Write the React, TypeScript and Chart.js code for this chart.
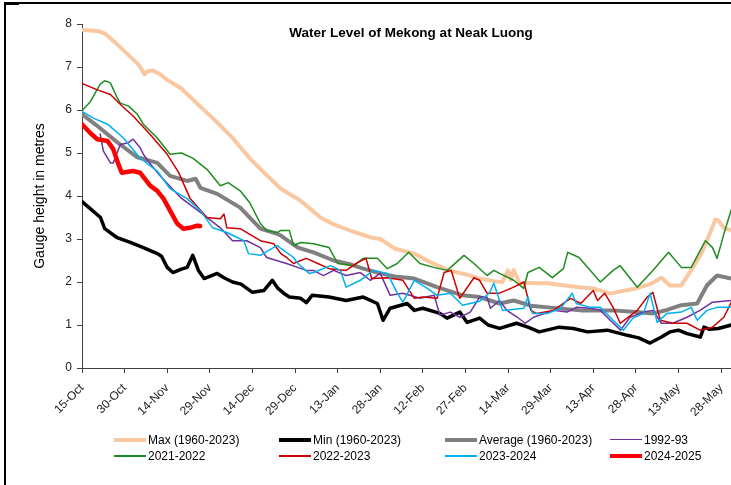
import React, { useEffect, useRef } from "react";
import { Chart, registerables } from "chart.js";

Chart.register(...registerables);

const FONT = "'Liberation Sans', Arial, Helvetica, sans-serif";

const TITLE = "Water Level of Mekong at Neak Luong";
const Y_TITLE = "Gauge height in metres";

// days since 15-Oct; tick every 15 days
const xTickLabels = [
  "15-Oct", "30-Oct", "14-Nov", "29-Nov", "14-Dec", "29-Dec", "13-Jan", "28-Jan",
  "12-Feb", "27-Feb", "14-Mar", "29-Mar", "13-Apr", "28-Apr", "13-May", "28-May",
];
const X_STEP = 15;
const X_MAX = 228.5;
const Y_MAX = 8;

type P = [number, number];

const maxSeries: P[] = [
  [0, 7.86], [3, 7.85], [6, 7.83], [8, 7.78], [12, 7.55], [16, 7.3], [20, 7.05], [22, 6.83],
  [23, 6.9], [25, 6.92], [27, 6.85], [30, 6.7], [35, 6.5], [41, 6.12], [47, 5.75], [53, 5.35],
  [59, 4.88], [64, 4.55], [70, 4.17], [77, 3.89], [84, 3.5], [88, 3.36], [95, 3.18], [102, 3.03],
  [105, 3.0], [110, 2.78], [117, 2.66], [123, 2.45], [129, 2.27], [135, 2.18], [140, 2.08],
  [145, 2.02], [148, 2.0], [150, 2.27], [151, 2.05], [152, 2.28], [154, 1.98], [160, 1.97],
  [164, 1.97], [170, 1.92], [175, 1.88], [180, 1.85], [186, 1.73], [191, 1.8], [195, 1.85],
  [200, 1.95], [204, 2.1], [207, 1.92], [211, 1.92], [215, 2.33], [218, 2.65], [220, 2.96],
  [223, 3.45], [224, 3.43], [226, 3.26], [228.6, 3.2],
];

const minSeries: P[] = [
  [0, 3.87], [3, 3.7], [6.5, 3.5], [8, 3.24], [12.4, 3.03], [17, 2.92], [21.6, 2.8], [26.5, 2.66],
  [28, 2.6], [30, 2.34], [32, 2.22], [35, 2.3], [37, 2.34], [39, 2.62], [41, 2.27], [43, 2.08],
  [47.6, 2.2], [50, 2.1], [53, 2.0], [56, 1.95], [60, 1.76], [64, 1.8], [67, 2.04], [69, 1.85],
  [71, 1.74], [73, 1.65], [77, 1.62], [79, 1.52], [81, 1.69], [87, 1.65], [93, 1.57], [99, 1.65],
  [104, 1.5], [106, 1.11], [108.5, 1.39], [114.5, 1.5], [117, 1.34], [120, 1.39], [126, 1.27],
  [128.5, 1.16], [133, 1.3], [135.6, 1.06], [140, 1.16], [143, 1.0], [147, 0.92], [153, 1.04],
  [157, 0.95], [161, 0.84], [168, 0.95], [173, 0.92], [178, 0.84], [185, 0.88], [192, 0.76],
  [196, 0.7], [200, 0.58], [204, 0.72], [207, 0.84], [210, 0.88], [213, 0.8], [217.7, 0.72],
  [219, 0.95], [221, 0.9], [224, 0.92], [228.6, 1.0],
];

const avgSeries: P[] = [
  [0, 5.9], [5, 5.65], [12.4, 5.25], [19.5, 4.9], [26.5, 4.77], [31, 4.47], [37, 4.35], [40, 4.4],
  [41.7, 4.19], [47.6, 4.05], [55.7, 3.73], [62.8, 3.24], [68.7, 3.12], [70, 3.08], [76, 2.8],
  [81.5, 2.69], [88.6, 2.5], [95, 2.4], [99, 2.31], [105, 2.2], [111, 2.12], [117, 2.08],
  [125, 1.88], [134, 1.69], [140, 1.65], [147, 1.5], [152, 1.57], [158, 1.45], [164, 1.41],
  [175.5, 1.34], [187, 1.34], [195, 1.3], [201, 1.27], [206, 1.35], [211, 1.46], [216.6, 1.5],
  [220, 1.92], [223.6, 2.15], [228.6, 2.08],
];

const s1992: P[] = [
  [6.4, 5.44], [7.5, 5.05], [10, 4.77], [11, 4.77], [13.5, 5.2], [16, 5.23], [18, 5.32],
  [20.5, 5.12], [21.6, 4.97], [24, 4.75], [27.5, 4.47], [34.6, 3.97], [41.7, 3.62], [48.7, 3.26],
  [53, 2.96], [58, 2.96], [62.8, 2.8], [65, 2.57], [72, 2.43], [79, 2.27], [81.5, 2.27],
  [85, 2.15], [88.6, 2.27], [93, 2.15], [98, 2.22], [101.5, 2.04], [105, 2.2], [108.5, 1.69],
  [113, 1.74], [119, 1.62], [124, 1.69], [126, 1.23], [129.7, 1.3], [133, 1.18], [136.7, 1.3],
  [140, 1.65], [142.6, 1.65], [143.8, 1.39], [147, 1.57], [149.6, 1.34], [153.3, 1.18],
  [156, 1.04], [159, 1.18], [166, 1.34], [170.8, 1.3], [174, 1.41], [179, 1.39], [182.5, 1.34],
  [186, 1.11], [189.6, 0.88], [193, 1.18], [197.7, 1.3], [201, 1.34], [204, 1.04], [208, 1.04],
  [213, 1.18], [217.6, 1.34], [222, 1.53], [228.6, 1.57],
];

const s2021: P[] = [
  [0, 5.98], [3, 6.2], [6.4, 6.6], [8, 6.68], [10, 6.63], [12.4, 6.28], [13.5, 6.16], [16.4, 6.09],
  [19.5, 5.9], [21.6, 5.67], [26.5, 5.35], [31, 4.97], [35, 5.0], [39, 4.88], [44, 4.62],
  [48.7, 4.24], [51.5, 4.31], [55.7, 4.12], [59, 3.85], [62.8, 3.36], [65, 3.2], [68.7, 3.15],
  [70, 3.2], [73, 3.2], [74.5, 2.85], [77, 2.92], [81.5, 2.89], [87, 2.8], [90, 2.43],
  [95.7, 2.38], [99, 2.55], [104, 2.55], [107.5, 2.31], [111, 2.43], [115, 2.69], [119, 2.43],
  [123.8, 2.34], [128.6, 2.27], [134.5, 2.62], [138, 2.43], [142.6, 2.15], [145, 2.27],
  [147, 2.2], [152, 2.04], [155.5, 1.85], [157, 2.22], [161, 2.34], [165.6, 2.1], [169.5, 2.31],
  [171, 2.69], [175, 2.57], [179, 2.27], [182.5, 2.0], [187, 2.27], [189.5, 2.38], [195.5, 1.88],
  [201, 2.27], [206.5, 2.69], [211, 2.34], [214.5, 2.34], [219.5, 2.96], [222, 2.8],
  [223.6, 2.55], [226, 3.12], [228.6, 3.68],
];

const s2022: P[] = [
  [0, 6.62], [5, 6.48], [10, 6.36], [14, 6.1], [18, 5.86], [24, 5.43], [30, 4.97], [34, 4.55],
  [38, 3.95], [44, 3.5], [48.7, 3.47], [50, 3.58], [51, 3.26], [55.7, 3.24], [62.8, 2.96],
  [67.5, 2.89], [70, 2.66], [72, 2.57], [74.5, 2.43], [77, 2.5], [79, 2.55], [83, 2.43],
  [87, 2.31], [93, 2.27], [97, 2.45], [100, 2.55], [102, 2.08], [107.5, 2.1], [113, 2.04],
  [117, 1.62], [120, 1.65], [125, 1.62], [127.5, 2.22], [130, 2.27], [133, 1.62], [138, 2.1],
  [140, 2.04], [142.6, 1.74], [147, 1.74], [152, 1.88], [155.6, 2.0], [158, 1.34], [160, 1.27],
  [166, 1.34], [172, 1.62], [175.6, 1.5], [180, 1.8], [181.5, 1.57], [184, 1.74], [187, 1.41],
  [189.5, 1.04], [195.5, 1.34], [199, 1.65], [201, 1.76], [203.6, 1.11], [208, 1.04], [213, 1.04],
  [217.6, 0.88], [222, 0.95], [226, 1.18], [228.6, 1.53],
];

const s2023: P[] = [
  [0, 5.97], [4, 5.81], [9, 5.67], [14.6, 5.35], [20.5, 4.88], [26.5, 4.58], [31, 4.17],
  [37, 3.94], [41.7, 3.66], [46, 3.26], [51, 3.15], [57, 2.96], [58.6, 2.66], [62.8, 2.62],
  [68.7, 2.85], [70, 2.78], [74.5, 2.57], [76, 2.43], [80, 2.2], [81.5, 2.22], [87.5, 2.38],
  [91, 2.27], [93, 1.88], [98, 2.04], [102.6, 2.27], [107.5, 2.2], [111, 1.74], [113, 1.53],
  [117, 2.04], [121.6, 1.85], [125, 1.69], [129.7, 1.74], [134, 1.46], [140, 1.55], [143.5, 1.75],
  [145, 1.97], [147, 1.57], [148, 1.34], [155.6, 1.39], [157, 1.65], [158.6, 1.27], [164, 1.27],
  [168.5, 1.39], [172.6, 1.74], [174, 1.5], [179, 1.41], [182.5, 1.41], [187, 1.11],
  [190.6, 0.88], [194, 1.16], [197.7, 1.27], [200, 1.74], [202.5, 1.06], [206, 1.27], [211, 1.3],
  [214.5, 1.41], [216.6, 1.11], [220, 1.34], [223.6, 1.41], [228.6, 1.41],
];

const s2024: P[] = [
  [0, 5.67], [3, 5.46], [5.4, 5.32], [9, 5.28], [11, 5.09], [12.8, 4.74], [14, 4.54], [18, 4.58],
  [20.5, 4.54], [24, 4.24], [26.5, 4.12], [28.7, 3.94], [31, 3.66], [33.5, 3.36], [35.7, 3.24],
  [38, 3.26], [40.5, 3.31], [41.6, 3.3],
];

const seriesNames = [
  "Max (1960-2023)", "Min (1960-2023)", "Average (1960-2023)", "1992-93",
  "2021-2022", "2022-2023", "2023-2024", "2024-2025",
];
const seriesData = [maxSeries, minSeries, avgSeries, s1992, s2021, s2022, s2023, s2024];
const seriesColors = [
  "#FAC8A0", "#000000", "#808080", "#7030A0", "#1E8C1E", "#CC0000", "#00B0F0", "#FF0000",
];
const seriesWidths = [4, 3.5, 4, 1.5, 1.5, 1.5, 1.5, 4.5];

export default function App() {
  const ref = useRef<HTMLCanvasElement | null>(null);

  useEffect(() => {
    if (!ref.current) return;
    Chart.defaults.font.family = FONT;
    const chart = new Chart(ref.current, {
      type: "line",
      data: {
        datasets: seriesData.map((d, i) => ({
          label: seriesNames[i],
          data: d.map(([x, y]) => ({ x, y })),
          borderColor: seriesColors[i],
          backgroundColor: seriesColors[i],
          borderWidth: seriesWidths[i],
          pointRadius: 0,
          tension: 0,
          fill: false,
          borderJoinStyle: "round" as const,
          borderCapStyle: "round" as const,
          order: seriesData.length - i,
        })),
      },
      options: {
        animation: false,
        responsive: false,
        devicePixelRatio: 1,
        events: [],
        layout: { padding: { left: 26, top: 24, right: 0, bottom: 67 } },
        plugins: {
          legend: { display: false },
          title: { display: false },
          tooltip: { enabled: false },
        },
        scales: {
          x: {
            type: "linear",
            min: 0,
            max: X_MAX,
            afterBuildTicks: (s: any) => {
              s.ticks = xTickLabels.map((_, i) => ({ value: i * X_STEP }));
            },
            afterFit: (s: any) => {
              s.height = 50;
              s.paddingLeft = 0;
              s.paddingRight = 0;
            },
            grid: {
              display: true,
              drawOnChartArea: false,
              drawTicks: true,
              tickLength: 5,
              color: "#404040",
            },
            border: { display: true, color: "#404040", width: 1 },
            ticks: {
              autoSkip: false,
              minRotation: 45,
              maxRotation: 45,
              padding: 8,
              color: "#222",
              font: { size: 12, family: FONT },
              callback: (v: any) => xTickLabels[Math.round(Number(v) / X_STEP)] ?? "",
            },
          },
          y: {
            type: "linear",
            min: 0,
            max: Y_MAX,
            afterFit: (s: any) => {
              s.width = 56;
            },
            grid: {
              display: true,
              drawOnChartArea: false,
              drawTicks: true,
              tickLength: 5,
              color: "#404040",
            },
            border: { display: true, color: "#404040", width: 1 },
            ticks: {
              stepSize: 1,
              padding: 5,
              color: "#222",
              font: { size: 12, family: FONT },
            },
            title: {
              display: true,
              text: Y_TITLE,
              color: "#000",
              font: { size: 14, family: FONT },
              padding: { top: 6, bottom: 4 },
            },
          },
        },
      },
    } as any);
    return () => chart.destroy();
  }, []);

  const legendCols = [114, 279, 445, 610];
  const legendRows = [439.5, 456];

  return (
    <div
      style={{
        position: "absolute",
        left: 0,
        top: 0,
        width: 731,
        height: 485,
        overflow: "hidden",
        background: "#fff",
        fontFamily: FONT,
      }}
    >
      <canvas ref={ref} width={731} height={485} style={{ position: "absolute", left: 0, top: 0 }} />
      {/* frame */}
      <div style={{ position: "absolute", left: 4, top: 2, width: 727, height: 1.5, background: "#000" }} />
      <div style={{ position: "absolute", left: 4, top: 2, width: 15, height: 2.5, background: "#000" }} />
      <div style={{ position: "absolute", left: 4, top: 2, width: 2, height: 483, background: "#000" }} />
      {/* title */}
      <div
        style={{
          position: "absolute",
          left: 211,
          top: 25,
          width: 400,
          textAlign: "center",
          fontWeight: "bold",
          fontSize: 13.5,
          lineHeight: "16px",
          color: "#000",
          whiteSpace: "nowrap",
        }}
      >
        {TITLE}
      </div>
      {/* legend */}
      {seriesNames.map((name, i) => {
        const col = i % 4;
        const row = Math.floor(i / 4);
        const x = legendCols[col];
        const y = legendRows[row];
        const w = seriesWidths[i] >= 3 ? 4 : 1.5;
        return (
          <React.Fragment key={name}>
            <div
              style={{
                position: "absolute",
                left: x,
                top: y - w / 2,
                width: 32,
                height: w,
                background: seriesColors[i],
              }}
            />
            <div
              style={{
                position: "absolute",
                left: x + 34,
                top: y - 7,
                fontSize: 12,
                lineHeight: "14px",
                color: "#000",
                whiteSpace: "nowrap",
              }}
            >
              {name}
            </div>
          </React.Fragment>
        );
      })}
    </div>
  );
}
